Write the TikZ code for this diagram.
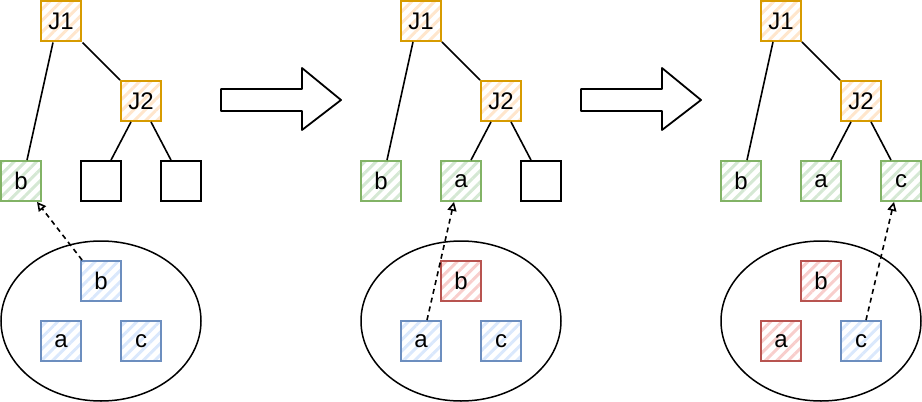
\documentclass[tikz,border=0pt]{standalone}
\usepackage{fontspec}
\setmainfont{Liberation Sans}
\usetikzlibrary{patterns.meta,arrows.meta}
\definecolor{orD}{HTML}{D79B00}\definecolor{orF}{HTML}{FFE6CC}
\definecolor{grD}{HTML}{82B366}\definecolor{grF}{HTML}{D5E8D4}
\definecolor{blD}{HTML}{6C8EBF}\definecolor{blF}{HTML}{DAE8FC}
\definecolor{rdD}{HTML}{B85450}\definecolor{rdF}{HTML}{F8CECC}
\newcommand{\boxfont}{\fontsize{24}{28}\selectfont}
\tikzset{
  box/.style={draw, line width=1.8pt, minimum size=40pt, inner sep=0pt, font=\boxfont},
  hatch/.style={pattern={Lines[angle=45,distance=8pt,line width=3pt]}, pattern color=#1},
  orbox/.style={box, draw=orD, hatch=orF},
  grbox/.style={box, draw=grD, hatch=grF},
  blbox/.style={box, draw=blD, hatch=blF},
  rdbox/.style={box, draw=rdD, hatch=rdF},
  emptybox/.style={box, draw=black, fill=white},
  edge/.style={draw, line width=1.6pt},
  pool/.style={draw, line width=1.5pt},
  dasharrow/.style={draw, line width=1.6pt, dash pattern=on 5pt off 4pt, -{Triangle[open,length=9pt,width=9pt]}},
  bigarrow/.style={draw, line width=1.8pt, fill=white, line join=round},
}
\begin{document}
\begin{tikzpicture}[x=1pt,y=-1pt]
\useasboundingbox (0,0) rectangle (922,402);
% panel 1
\draw[pool] (101,321) ellipse [x radius=100, y radius=80];
\node[orbox] (j1a) at (61,21) {J1};
\node[orbox] (j2a) at (141,101) {J2};
\node[grbox] (lba) at (21,181) {b};
\node[emptybox] (l2a) at (101,181) {};
\node[emptybox] (l3a) at (181,181) {};
\node[blbox] (pba) at (101,281) {b};
\node[blbox] (paa) at (61,341) {a};
\node[blbox] (pca) at (141,341) {c};
\draw[edge] ([xshift=-8pt]j1a.south) -- ([xshift=6pt]lba.north);
\draw[edge] (j1a.south east) -- (j2a.north west);
\draw[edge] ([xshift=-10pt]j2a.south) -- ([xshift=10pt]l2a.north);
\draw[edge] ([xshift=10pt]j2a.south) -- ([xshift=-10pt]l3a.north);
\draw[dasharrow] ([xshift=2pt]pba.north west) -- ([xshift=16pt]lba.south);
% arrow 1
\coordinate (ar1) at (221,89);
\draw[bigarrow] (ar1) -- ++(81,0) -- ++(0,-21) -- ++(39,32) -- ++(-39,30) -- ++(0,-19) -- ++(-81,0) -- cycle;
% panel 2
\draw[pool] (461,321) ellipse [x radius=100, y radius=80];
\node[orbox] (j1b) at (421,21) {J1};
\node[orbox] (j2b) at (501,101) {J2};
\node[grbox] (lbb) at (381,181) {b};
\node[grbox] (l2b) at (461,181) {a};
\node[emptybox] (l3b) at (541,181) {};
\node[rdbox] (pbb) at (461,281) {b};
\node[blbox] (pab) at (421,341) {a};
\node[blbox] (pcb) at (501,341) {c};
\draw[edge] ([xshift=-8pt]j1b.south) -- ([xshift=6pt]lbb.north);
\draw[edge] (j1b.south east) -- (j2b.north west);
\draw[edge] ([xshift=-10pt]j2b.south) -- ([xshift=10pt]l2b.north);
\draw[edge] ([xshift=10pt]j2b.south) -- ([xshift=-10pt]l3b.north);
\draw[dasharrow] ([xshift=6pt]pab.north) -- ([xshift=-7pt]l2b.south);
% arrow 2
\coordinate (ar2) at (581,89);
\draw[bigarrow] (ar2) -- ++(81,0) -- ++(0,-21) -- ++(39,32) -- ++(-39,30) -- ++(0,-19) -- ++(-81,0) -- cycle;
% panel 3
\draw[pool] (821,321) ellipse [x radius=100, y radius=80];
\node[orbox] (j1c) at (781,21) {J1};
\node[orbox] (j2c) at (861,101) {J2};
\node[grbox] (lbc) at (741,181) {b};
\node[grbox] (l2c) at (821,181) {a};
\node[grbox] (l3c) at (901,181) {c};
\node[rdbox] (pbc) at (821,281) {b};
\node[rdbox] (pac) at (781,341) {a};
\node[blbox] (pcc) at (861,341) {c};
\draw[edge] ([xshift=-8pt]j1c.south) -- ([xshift=6pt]lbc.north);
\draw[edge] (j1c.south east) -- (j2c.north west);
\draw[edge] ([xshift=-10pt]j2c.south) -- ([xshift=10pt]l2c.north);
\draw[edge] ([xshift=10pt]j2c.south) -- ([xshift=-10pt]l3c.north);
\draw[dasharrow] ([xshift=5pt]pcc.north) -- ([xshift=-7pt]l3c.south);
\end{tikzpicture}
\end{document}
